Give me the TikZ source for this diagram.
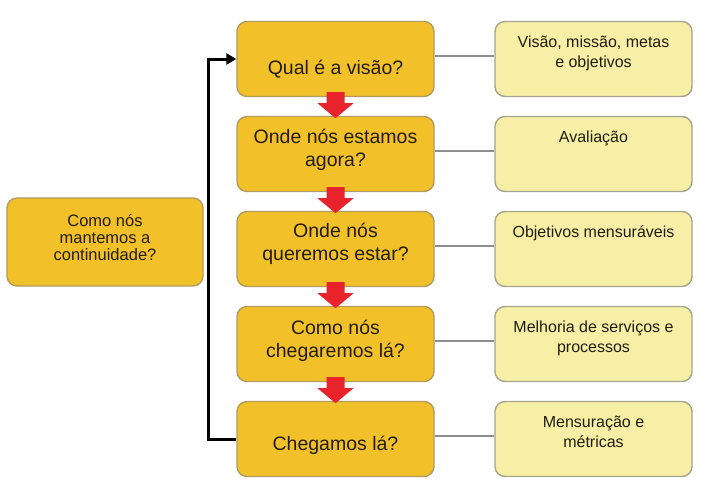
\documentclass[tikz,border=0pt]{standalone}
\usepackage{fontspec}
\setmainfont{Liberation Sans}
\usetikzlibrary{arrows.meta}
\definecolor{gold}{HTML}{F2C12A}
\definecolor{goldline}{HTML}{B39A5E}
\definecolor{pale}{HTML}{F7EFA6}
\definecolor{paleline}{HTML}{A6A48C}
\definecolor{redarr}{HTML}{E8232B}
\definecolor{txt}{HTML}{231C10}
\definecolor{conn}{HTML}{8E8E8E}
\tikzset{
  midbox/.style={draw=goldline, fill=gold, line width=1.4pt, rounded corners=10pt,
    minimum width=197pt, minimum height=75pt, inner sep=0pt},
  leftbox/.style={midbox, minimum width=196pt, minimum height=88pt},
  rbox/.style={draw=paleline, fill=pale, line width=1.4pt, rounded corners=10pt,
    minimum width=197pt, minimum height=75pt, inner sep=0pt},
  midtext/.style={font=\fontsize{19.5}{23}\selectfont, text=txt, align=center, inner sep=0pt},
  lefttext/.style={font=\fontsize{16.5}{17}\selectfont, text=txt, align=center, inner sep=0pt},
  rtext/.style={font=\fontsize{16}{20}\selectfont, text=txt, align=center, inner sep=0pt, anchor=north},
  link/.style={draw=conn, line width=1.3pt},
  back/.style={draw=black, line width=3pt, -{Triangle[length=10pt,width=11pt]}},
  redarrow/.style={fill=redarr, draw=none}
}
\newcommand{\redarrowat}[1]{%
  \fill[redarrow] ([shift={(-9pt,5pt)}]#1.south) -- ++(18pt,0) -- ++(0,-11pt) -- ++(9pt,0)
    -- ([shift={(0pt,-21pt)}]#1.south) -- ([shift={(-18pt,-6pt)}]#1.south) -- ++(9pt,0) -- cycle;}
\begin{document}
\begin{tikzpicture}[x=1pt,y=-1pt]
\useasboundingbox (0,0) rectangle (709,485);
% middle boxes
\node[midbox] (b1) at (335.5,59) {};
\node[midbox] (b2) at (335.5,154) {};
\node[midbox] (b3) at (335.5,249) {};
\node[midbox] (b4) at (335.5,344) {};
\node[midbox] (b5) at (335.5,439) {};
\node[midtext] (t1) at (335.5,69) {Qual é a visão?};
\node[midtext] (t2) at (335.5,150) {Onde nós estamos\\agora?};
\node[midtext] (t3) at (335.5,244) {Onde nós\\queremos estar?};
\node[midtext] (t4) at (335.5,341) {Como nós\\chegaremos lá?};
\node[midtext] (t5) at (335.5,445) {Chegamos lá?};
% left box
\node[leftbox] (lb) at (105,242) {};
\node[lefttext] (lt) at (105,238) {Como nós\\mantemos a\\continuidade?};
% right boxes
\node[rbox] (r1) at (593.5,59) {};
\node[rbox] (r2) at (593.5,154) {};
\node[rbox] (r3) at (593.5,249) {};
\node[rbox] (r4) at (593.5,344) {};
\node[rbox] (r5) at (593.5,439) {};
\node[rtext] (s1) at ([yshift=-15pt]r1.north) {Visão, missão, metas\\e objetivos};
\node[rtext] (s2) at ([yshift=-15pt]r2.north) {Avaliação};
\node[rtext] (s3) at ([yshift=-15pt]r3.north) {Objetivos mensuráveis};
\node[rtext] (s4) at ([yshift=-15pt]r4.north) {Melhoria de serviços e\\processos};
\node[rtext] (s5) at ([yshift=-15pt]r5.north) {Mensuração e\\métricas};
% connectors
\foreach \i in {1,...,5} {\draw[link] ([yshift=3pt]b\i.east) -- ([yshift=3pt]r\i.west);}
% red arrows
\redarrowat{b1}
\redarrowat{b2}
\redarrowat{b3}
\redarrowat{b4}
% feedback
\coordinate (c) at (208,0);
\draw[back] (b5.west) -| (c |- b1.west) -- (b1.west);
\end{tikzpicture}
\end{document}
